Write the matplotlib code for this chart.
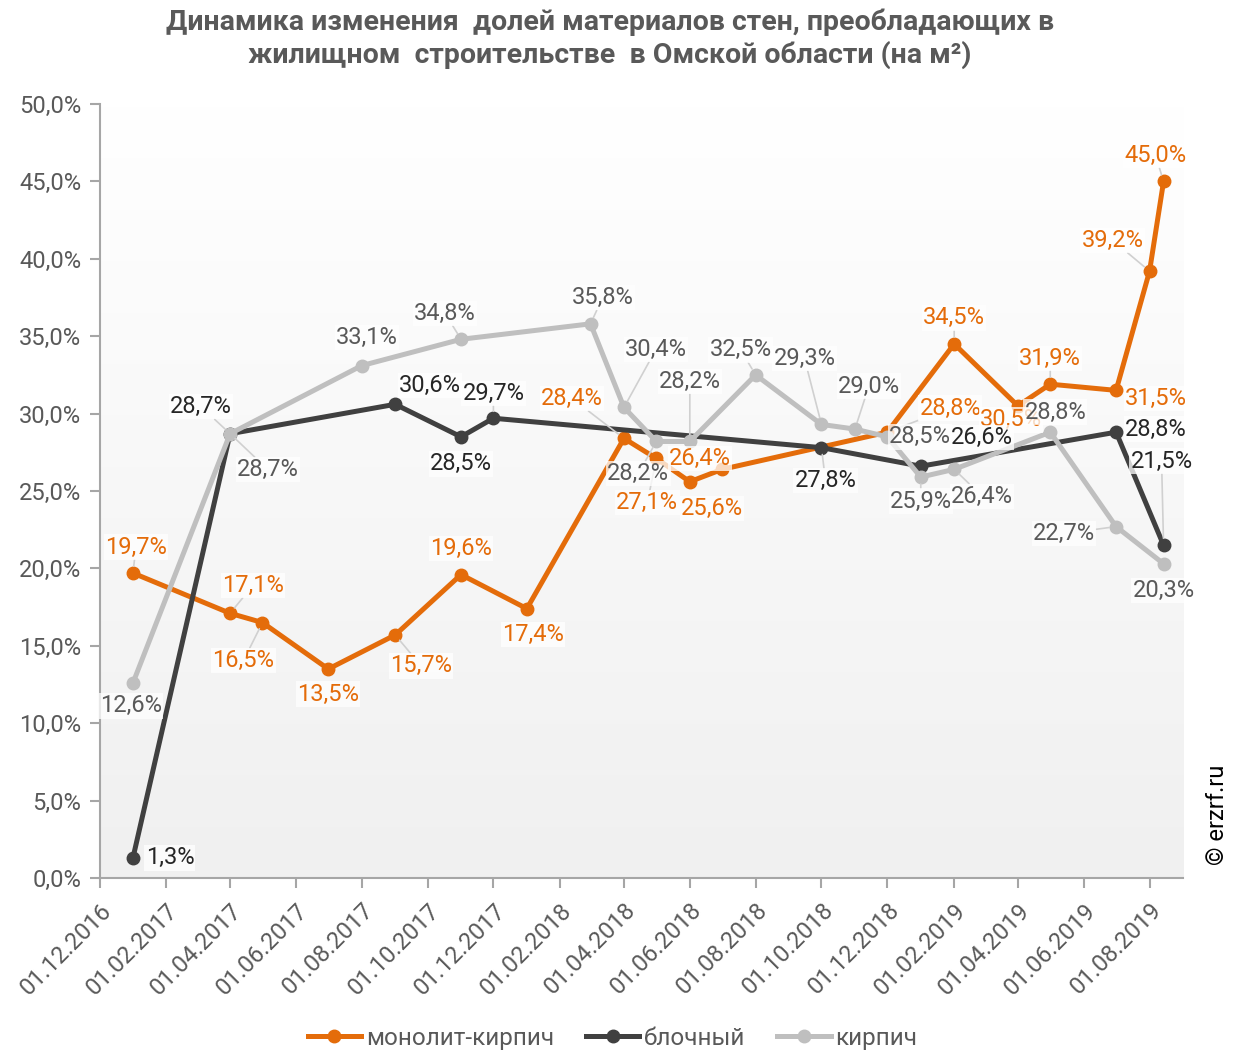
import matplotlib
matplotlib.use("Agg")
import matplotlib.pyplot as plt
import numpy as np
import pandas as pd
from matplotlib.lines import Line2D
from matplotlib.colors import LinearSegmentedColormap

plt.rcParams['font.family'] = ['Roboto', 'DejaVu Sans']

# ---------------- data ----------------
series_names = ["монолит-кирпич", "блочный", "кирпич"]

mk_dates = ['01.01.2017', '01.04.2017', '01.05.2017', '01.07.2017', '01.09.2017', '01.11.2017',
            '01.01.2018', '01.04.2018', '01.05.2018', '01.06.2018', '01.07.2018', '01.12.2018',
            '01.02.2019', '01.04.2019', '01.05.2019', '01.07.2019', '01.08.2019', '14.08.2019']
mk_values = [19.7, 17.1, 16.5, 13.5, 15.7, 19.6, 17.4, 28.4, 27.1, 25.6, 26.4, 28.8,
             34.5, 30.5, 31.9, 31.5, 39.2, 45.0]

bl_dates = ['01.01.2017', '01.04.2017', '01.09.2017', '01.11.2017', '01.12.2017',
            '01.10.2018', '01.01.2019', '01.07.2019', '14.08.2019']
bl_values = [1.3, 28.7, 30.6, 28.5, 29.7, 27.8, 26.6, 28.8, 21.5]

kr_dates = ['01.01.2017', '01.04.2017', '01.08.2017', '01.11.2017', '01.03.2018', '01.04.2018',
            '01.05.2018', '01.06.2018', '01.08.2018', '01.10.2018', '01.11.2018', '01.12.2018',
            '01.01.2019', '01.02.2019', '01.05.2019', '01.07.2019', '14.08.2019']
kr_values = [12.6, 28.7, 33.1, 34.8, 35.8, 30.4, 28.2, 28.2, 32.5, 29.3, 29.0, 28.5,
             25.9, 26.4, 28.8, 22.7, 20.3]

x_tick_labels = ['01.12.2016', '01.02.2017', '01.04.2017', '01.06.2017', '01.08.2017',
                 '01.10.2017', '01.12.2017', '01.02.2018', '01.04.2018', '01.06.2018',
                 '01.08.2018', '01.10.2018', '01.12.2018', '01.02.2019', '01.04.2019',
                 '01.06.2019', '01.08.2019']
y_ticks = [0, 5, 10, 15, 20, 25, 30, 35, 40, 45, 50]

title = ("Динамика изменения  долей материалов стен, преобладающих в\n"
         "жилищном  строительстве  в Омской области (на м²)")

# ---------------- styles ----------------
C_OR = '#E46C0A'
C_BL = '#404040'
C_GR = '#BFBFBF'
LBL_OR = '#E46C0A'
LBL_BL = '#262626'
LBL_GR = '#595959'
LEAD = '#D0D0D0'
FS = 17

# label offsets in pixels (dx right, dy down), leader flag
mk_off = [(3, -26, 1), (23, -28, 1), (-19, 38, 1), (0, 25, 0), (26, 31, 1), (0, -26, 0),
          (6, 26, 0), (-52, -40, 1), (-9, 44, 1), (22, 27, 0), (-22, -11, 0), (63, -24, 1),
          (0, -26, 1), (-7, 14, 0), (0, -26, 1), (40, 8, 0), (-37, -31, 1), (-8, -26, 1)]
bl_off = [(37, 0, 0), (-29, -27, 1), (35, -19, 0), (0, 27, 0), (0, -25, 1), (4, 33, 1),
          (61, -29, 0), (40, -3, 0), (-2, -84, 1)]
kr_off = [(-2, 23, 0), (38, 36, 1), (5, -28, 0), (-16, -26, 1), (12, -26, 1), (32, -58, 1),
          (-18, 32, 1), (0, -60, 1), (-15, -25, 1), (-17, -66, 1), (14, -43, 1), (33, 0, 0),
          (0, 24, 1), (28, 27, 1), (5, -20, 0), (-52, 7, 1), (0, 27, 0)]


def to_dt(lst):
    return pd.to_datetime(lst, format='%d.%m.%Y')


fig = plt.figure(figsize=(12.4, 10.51), dpi=100)
ax = fig.add_axes([99.5 / 1240, 1 - 878 / 1051, (1183 - 99.5) / 1240, (878 - 104) / 1051])

# gradient background
grad = np.linspace(0, 1, 256).reshape(-1, 1)
cm = LinearSegmentedColormap.from_list('bg', ['#F0F0F0', '#FFFFFF'])
ax.imshow(grad, aspect='auto', cmap=cm, origin='lower', extent=[0, 1, 0, 1],
          transform=ax.transAxes, zorder=0)

series = [
    (mk_dates, mk_values, C_OR, LBL_OR, mk_off),
    (bl_dates, bl_values, C_BL, LBL_BL, bl_off),
    (kr_dates, kr_values, C_GR, LBL_GR, kr_off),
]

for i, (d, v, c, lc, offs) in enumerate(series):
    xd = to_dt(d)
    ax.plot(xd, v, color=c, lw=3.6, marker='o', ms=9, solid_joinstyle='round',
            zorder=3 + i, label=series_names[i])

for i, (d, v, c, lc, offs) in enumerate(series):
    xd = to_dt(d)
    for xx, vv, (dx, dy, lead) in zip(xd, v, offs):
        txt = f"{vv:.1f}%".replace('.', ',')
        kw = {}
        if lead:
            kw['arrowprops'] = dict(arrowstyle='-', color=LEAD, lw=1.2,
                                    shrinkA=0, shrinkB=5)
        ax.annotate(txt, xy=(xx, vv), xytext=(dx, -dy), textcoords='offset pixels',
                    ha='center', va='center', fontsize=FS, color=lc, zorder=10,
                    bbox=dict(boxstyle='square,pad=0.05', fc='white', ec='none', alpha=0.75),
                    **kw)

ax.set_ylim(0, 50)
ax.set_xlim(pd.Timestamp('2016-12-01'), pd.Timestamp('2019-09-01'))
ax.set_yticks(y_ticks)
ax.set_yticklabels([f"{t:.1f}%".replace('.', ',') for t in y_ticks])
ax.set_xticks(to_dt(x_tick_labels))
ax.set_xticklabels(x_tick_labels, rotation=45, ha='right', rotation_mode='anchor')

for s in ['top', 'right']:
    ax.spines[s].set_visible(False)
for s in ['left', 'bottom']:
    ax.spines[s].set_color('#A6A6A6')
    ax.spines[s].set_linewidth(1.5)
ax.tick_params(axis='both', direction='out', length=7, width=1.5, color='#A6A6A6',
               labelsize=FS, labelcolor='#595959', pad=6)
ax.tick_params(axis='x', pad=8)

fig.text(0.492, 0.963, title, ha='center', va='center', fontsize=20.5, fontweight='bold',
         color='#595959', linespacing=1.2)

fig.text(0.982, 0.225, "© erzrf.ru", rotation=90, ha='center', va='center',
         fontsize=FS, color='black')

handles = [Line2D([0], [0], color=c, lw=3.6, marker='o', ms=9) for c in (C_OR, C_BL, C_GR)]
fig.legend(handles, series_names, loc='center', bbox_to_anchor=(0.494, 0.012), ncol=3,
           frameon=False, fontsize=17.5, handlelength=2.2, columnspacing=1.3,
           handletextpad=0.2, labelcolor='#595959')

fig.savefig('out.png', dpi=100)
